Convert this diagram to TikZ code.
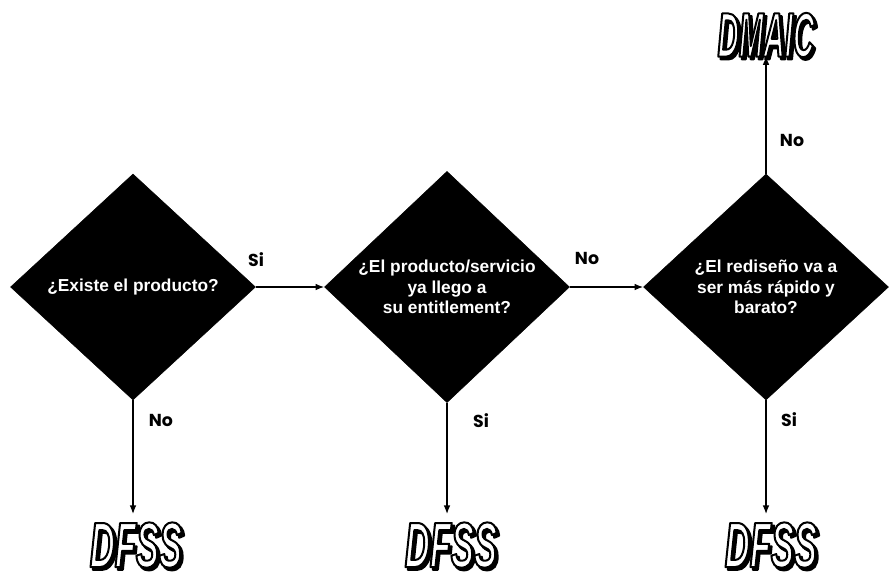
\documentclass[tikz,border=0pt]{standalone}
\usepackage{fontspec}
\setmainfont{Liberation Sans}
\newfontfamily\lblfont{Poppins}
\newfontfamily\dfssfont{Liberation Sans}[FakeStretch=0.54]
\newfontfamily\dmaicfont{Liberation Sans}[FakeStretch=0.47]
\usetikzlibrary{shapes.geometric,arrows.meta,calc}
\tikzset{
  decision/.style={diamond, fill=black, draw=black, inner sep=0pt,
    minimum width=183.75pt, minimum height=169.5pt, text=white, align=center,
    font=\fontsize{13}{15.5}\selectfont\bfseries},
  dfssword/.style={inner sep=0pt, font=\dfssfont\fontsize{48}{48}\selectfont\bfseries\itshape},
  dmaicword/.style={inner sep=0pt, font=\dmaicfont\fontsize{47}{47}\selectfont\bfseries\itshape},
  lbl/.style={inner sep=0pt, font=\lblfont\fontsize{13}{14}\selectfont\bfseries},
  arr/.style={line width=1pt, -{Latex[length=6.5pt,width=5pt]}}
}
% outlined text: fill in current colour, black stroke of width #1
\newcommand{\stroked}[2]{\special{pdf:code 2 Tr #1 w 0 G 1 j}#2\special{pdf:code 0 Tr 0.3985 w}}
\begin{document}
\begin{tikzpicture}[x=0.75pt,y=-0.75pt]
\useasboundingbox (0,0) rectangle (892,578);
% decisions
\node[decision] (d1) at (133,287) {¿Existe el producto?};
\node[decision] (d2) at (447,287) {¿El producto/servicio\\ya llego a\\su entitlement?};
\node[decision] (d3) at (766,287) {¿El rediseño va a\\ser más rápido y\\barato?};
% outcomes: shadow, then outlined white word
\node[dfssword,text=black] (f1s) at ([shift={(1.8pt,-2pt)}]136,545) {\stroked{1.6}{DFSS}};
\node[dfssword,text=white] (f1) at (136,545) {\stroked{1.5}{DFSS}};
\node[dfssword,text=black] (f2s) at ([shift={(1.8pt,-2pt)}]451,545) {\stroked{1.6}{DFSS}};
\node[dfssword,text=white] (f2) at (451,545) {\stroked{1.5}{DFSS}};
\node[dfssword,text=black] (f3s) at ([shift={(1.8pt,-2pt)}]771,545) {\stroked{1.6}{DFSS}};
\node[dfssword,text=white] (f3) at (771,545) {\stroked{1.5}{DFSS}};
\node[dmaicword,text=black] (dms) at ([shift={(1.8pt,-2pt)}]766,35) {\stroked{1.6}{DMAIC}};
\node[dmaicword,text=white] (dm) at (766,35) {\stroked{1.5}{DMAIC}};
% connectors
\draw[arr] (d1.east) -- (d2.west);
\draw[arr] (d2.east) -- (d3.west);
\draw[arr] (d3.north) -- ([yshift=1pt]d3.north |- dm.south);
\draw[arr] (d1.south) -- ([yshift=6pt]d1.south |- f1.north);
\draw[arr] (d2.south) -- ([yshift=6pt]d2.south |- f2.north);
\draw[arr] (d3.south) -- ([yshift=6pt]d3.south |- f3.north);
% labels
\node[lbl] (s1) at (256,260) {Si};
\node[lbl] (n2) at (587,258) {No};
\node[lbl] (n1) at (161,420) {No};
\node[lbl] (s2) at (481,421) {Si};
\node[lbl] (s3) at (789,420) {Si};
\node[lbl] (n3) at (792,140) {No};
\end{tikzpicture}
\end{document}
